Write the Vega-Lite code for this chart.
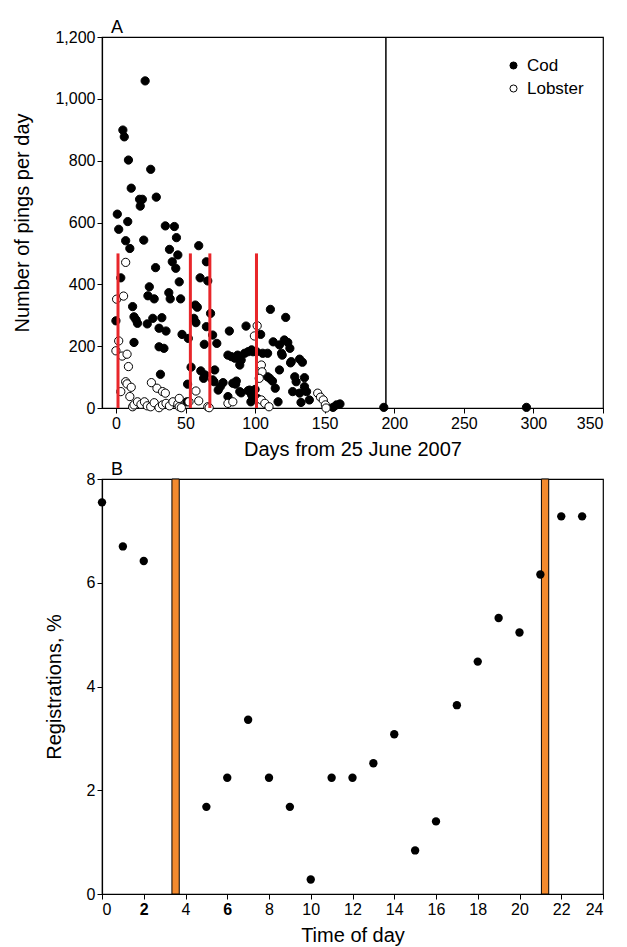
{
  "$schema": "https://vega.github.io/schema/vega-lite/v6.json",
  "padding": {"left": 12, "top": 18, "right": 20, "bottom": 5},
  "spacing": 0,
  "config": {
    "font": "Liberation Sans",
    "view": {"stroke": "black", "strokeWidth": 1.2},
    "axis": {"domainColor": "black", "tickColor": "black", "labelColor": "black", "titleColor": "black", "labelFontSize": 16, "titleFontSize": 20, "titleFontWeight": "normal", "grid": false, "tickSize": 5, "domainWidth": 1.2, "tickWidth": 1, "labelPadding": 2, "titlePadding": 8},
    "axisY": {"titlePadding": 22},
    "title": {"fontSize": 18, "fontWeight": "normal", "anchor": "start", "frame": "group", "color": "black", "offset": -8}
  },
  "datasets": {
    "pings": [
      {"species": "Cod", "day": 21, "pings": 1058}, {"species": "Cod", "day": 5, "pings": 899}, {"species": "Cod", "day": 6, "pings": 877}, {"species": "Cod", "day": 9, "pings": 802}, {"species": "Cod", "day": 25, "pings": 772}, {"species": "Cod", "day": 11, "pings": 711}, {"species": "Cod", "day": 17, "pings": 675}, {"species": "Cod", "day": 19, "pings": 675}, {"species": "Cod", "day": 17.5, "pings": 653}, {"species": "Cod", "day": 29, "pings": 682},
      {"species": "Cod", "day": 1, "pings": 627}, {"species": "Cod", "day": 2, "pings": 578}, {"species": "Cod", "day": 8.5, "pings": 603}, {"species": "Cod", "day": 7, "pings": 541}, {"species": "Cod", "day": 10, "pings": 516}, {"species": "Cod", "day": 20, "pings": 543}, {"species": "Cod", "day": 35.5, "pings": 589}, {"species": "Cod", "day": 42, "pings": 587}, {"species": "Cod", "day": 43.5, "pings": 551}, {"species": "Cod", "day": 38.5, "pings": 513},
      {"species": "Cod", "day": 40.5, "pings": 473}, {"species": "Cod", "day": 44.5, "pings": 495}, {"species": "Cod", "day": 59.5, "pings": 525}, {"species": "Cod", "day": 65, "pings": 473}, {"species": "Cod", "day": 28.5, "pings": 454}, {"species": "Cod", "day": 43, "pings": 452}, {"species": "Cod", "day": 45.5, "pings": 408}, {"species": "Cod", "day": 3.5, "pings": 421}, {"species": "Cod", "day": 24, "pings": 392}, {"species": "Cod", "day": 60.5, "pings": 421},
      {"species": "Cod", "day": 66, "pings": 411}, {"species": "Cod", "day": 23, "pings": 363}, {"species": "Cod", "day": 27.5, "pings": 353}, {"species": "Cod", "day": 38, "pings": 373}, {"species": "Cod", "day": 39, "pings": 353}, {"species": "Cod", "day": 46.5, "pings": 353}, {"species": "Cod", "day": 12, "pings": 328}, {"species": "Cod", "day": 57, "pings": 333}, {"species": "Cod", "day": 58.5, "pings": 326}, {"species": "Cod", "day": 13, "pings": 295},
      {"species": "Cod", "day": 14.5, "pings": 285}, {"species": "Cod", "day": 15.5, "pings": 274}, {"species": "Cod", "day": 22.5, "pings": 272}, {"species": "Cod", "day": 26.5, "pings": 290}, {"species": "Cod", "day": 33, "pings": 292}, {"species": "Cod", "day": 31, "pings": 258}, {"species": "Cod", "day": 36, "pings": 249}, {"species": "Cod", "day": 0, "pings": 282}, {"species": "Cod", "day": 47.5, "pings": 238}, {"species": "Cod", "day": 56, "pings": 290},
      {"species": "Cod", "day": 57.5, "pings": 276}, {"species": "Cod", "day": 68, "pings": 306}, {"species": "Cod", "day": 65, "pings": 263}, {"species": "Cod", "day": 69.5, "pings": 236}, {"species": "Cod", "day": 72.5, "pings": 209}, {"species": "Cod", "day": 13, "pings": 212}, {"species": "Cod", "day": 31, "pings": 198}, {"species": "Cod", "day": 34.5, "pings": 193}, {"species": "Cod", "day": 63.5, "pings": 206}, {"species": "Cod", "day": 52, "pings": 225},
      {"species": "Cod", "day": 81.5, "pings": 249}, {"species": "Cod", "day": 93.5, "pings": 265}, {"species": "Cod", "day": 32, "pings": 109}, {"species": "Cod", "day": 54, "pings": 132}, {"species": "Cod", "day": 61, "pings": 120}, {"species": "Cod", "day": 63, "pings": 96}, {"species": "Cod", "day": 71, "pings": 123}, {"species": "Cod", "day": 51.5, "pings": 77}, {"species": "Cod", "day": 70.5, "pings": 85}, {"species": "Cod", "day": 77, "pings": 82},
      {"species": "Cod", "day": 73.5, "pings": 58}, {"species": "Cod", "day": 86, "pings": 77}, {"species": "Cod", "day": 80.5, "pings": 37}, {"species": "Cod", "day": 90, "pings": 49}, {"species": "Cod", "day": 95, "pings": 56}, {"species": "Cod", "day": 97, "pings": 20}, {"species": "Cod", "day": 51, "pings": 20},
      {"species": "Cod", "day": 80.5, "pings": 171}, {"species": "Cod", "day": 83, "pings": 166}, {"species": "Cod", "day": 85.5, "pings": 161}, {"species": "Cod", "day": 87.5, "pings": 171}, {"species": "Cod", "day": 90, "pings": 155}, {"species": "Cod", "day": 89, "pings": 139}, {"species": "Cod", "day": 92.5, "pings": 177}, {"species": "Cod", "day": 95, "pings": 182}, {"species": "Cod", "day": 97.5, "pings": 188}, {"species": "Cod", "day": 101, "pings": 182},
      {"species": "Cod", "day": 105.5, "pings": 177}, {"species": "Cod", "day": 109, "pings": 177}, {"species": "Cod", "day": 111, "pings": 319}, {"species": "Cod", "day": 122, "pings": 293}, {"species": "Cod", "day": 113, "pings": 214}, {"species": "Cod", "day": 117.5, "pings": 204}, {"species": "Cod", "day": 121, "pings": 220}, {"species": "Cod", "day": 123.5, "pings": 212}, {"species": "Cod", "day": 125, "pings": 193}, {"species": "Cod", "day": 119, "pings": 177},
      {"species": "Cod", "day": 126, "pings": 150}, {"species": "Cod", "day": 117.5, "pings": 123}, {"species": "Cod", "day": 110.5, "pings": 96}, {"species": "Cod", "day": 112.5, "pings": 87}, {"species": "Cod", "day": 114.5, "pings": 64}, {"species": "Cod", "day": 116.5, "pings": 20}, {"species": "Cod", "day": 84, "pings": 80}, {"species": "Cod", "day": 86.5, "pings": 87}, {"species": "Cod", "day": 89, "pings": 53}, {"species": "Cod", "day": 96, "pings": 58},
      {"species": "Cod", "day": 97.5, "pings": 42}, {"species": "Cod", "day": 75, "pings": 69}, {"species": "Cod", "day": 69.5, "pings": 91}, {"species": "Cod", "day": 64, "pings": 107}, {"species": "Cod", "day": 104, "pings": 238}, {"species": "Cod", "day": 98.5, "pings": 182}, {"species": "Cod", "day": 119.5, "pings": 171}, {"species": "Cod", "day": 109, "pings": 101}, {"species": "Cod", "day": 100, "pings": 60}, {"species": "Cod", "day": 102, "pings": 30},
      {"species": "Cod", "day": 132, "pings": 158}, {"species": "Cod", "day": 134, "pings": 148}, {"species": "Cod", "day": 128.5, "pings": 101}, {"species": "Cod", "day": 135.5, "pings": 98}, {"species": "Cod", "day": 129.5, "pings": 85}, {"species": "Cod", "day": 127, "pings": 53}, {"species": "Cod", "day": 132, "pings": 48}, {"species": "Cod", "day": 137, "pings": 53}, {"species": "Cod", "day": 133, "pings": 18}, {"species": "Cod", "day": 139, "pings": 26},
      {"species": "Cod", "day": 156, "pings": 2}, {"species": "Cod", "day": 158.5, "pings": 10}, {"species": "Cod", "day": 161, "pings": 13}, {"species": "Cod", "day": 125.5, "pings": 146}, {"species": "Cod", "day": 135.5, "pings": 69}, {"species": "Cod", "day": 192.5, "pings": 2}, {"species": "Cod", "day": 295, "pings": 2},
      {"species": "Lobster", "day": 7, "pings": 471}, {"species": "Lobster", "day": 0.5, "pings": 352}, {"species": "Lobster", "day": 5.5, "pings": 362}, {"species": "Lobster", "day": 2, "pings": 217}, {"species": "Lobster", "day": 0, "pings": 185}, {"species": "Lobster", "day": 4.5, "pings": 168}, {"species": "Lobster", "day": 8, "pings": 174}, {"species": "Lobster", "day": 9, "pings": 134}, {"species": "Lobster", "day": 3.5, "pings": 53}, {"species": "Lobster", "day": 7, "pings": 85},
      {"species": "Lobster", "day": 8, "pings": 78}, {"species": "Lobster", "day": 11, "pings": 67}, {"species": "Lobster", "day": 10, "pings": 37}, {"species": "Lobster", "day": 12, "pings": 4}, {"species": "Lobster", "day": 13, "pings": 10}, {"species": "Lobster", "day": 15.5, "pings": 20}, {"species": "Lobster", "day": 18, "pings": 12}, {"species": "Lobster", "day": 20.5, "pings": 20}, {"species": "Lobster", "day": 22.5, "pings": 7}, {"species": "Lobster", "day": 25, "pings": 4},
      {"species": "Lobster", "day": 27.5, "pings": 17}, {"species": "Lobster", "day": 31, "pings": 1}, {"species": "Lobster", "day": 33.5, "pings": 10}, {"species": "Lobster", "day": 36, "pings": 15}, {"species": "Lobster", "day": 38.5, "pings": 7}, {"species": "Lobster", "day": 41, "pings": 20}, {"species": "Lobster", "day": 44.5, "pings": 13}, {"species": "Lobster", "day": 45.5, "pings": 4}, {"species": "Lobster", "day": 47, "pings": 1}, {"species": "Lobster", "day": 25.5, "pings": 82},
      {"species": "Lobster", "day": 29.5, "pings": 64}, {"species": "Lobster", "day": 33.5, "pings": 53}, {"species": "Lobster", "day": 35.5, "pings": 48}, {"species": "Lobster", "day": 45.5, "pings": 31}, {"species": "Lobster", "day": 52.5, "pings": 20}, {"species": "Lobster", "day": 57.5, "pings": 55}, {"species": "Lobster", "day": 59.5, "pings": 23}, {"species": "Lobster", "day": 66, "pings": 4}, {"species": "Lobster", "day": 67, "pings": 1}, {"species": "Lobster", "day": 80.5, "pings": 15},
      {"species": "Lobster", "day": 84, "pings": 20}, {"species": "Lobster", "day": 101.5, "pings": 266}, {"species": "Lobster", "day": 99.5, "pings": 233}, {"species": "Lobster", "day": 104.5, "pings": 139}, {"species": "Lobster", "day": 105, "pings": 117}, {"species": "Lobster", "day": 103, "pings": 96}, {"species": "Lobster", "day": 104.5, "pings": 26}, {"species": "Lobster", "day": 107, "pings": 15}, {"species": "Lobster", "day": 110, "pings": 4},
      {"species": "Lobster", "day": 145, "pings": 48}, {"species": "Lobster", "day": 147, "pings": 35}, {"species": "Lobster", "day": 149, "pings": 26}, {"species": "Lobster", "day": 150.5, "pings": 10}, {"species": "Lobster", "day": 151, "pings": 0}
    ],
    "releases": [{"day": 1.5}, {"day": 53.5}, {"day": 67.5}, {"day": 101}],
    "endline": [{"day": 194}],
    "hours": [
      {"hour": 0, "pct": 7.55}, {"hour": 1, "pct": 6.7}, {"hour": 2, "pct": 6.42}, {"hour": 5, "pct": 1.68}, {"hour": 6, "pct": 2.24}, {"hour": 7, "pct": 3.36}, {"hour": 8, "pct": 2.24}, {"hour": 9, "pct": 1.68}, {"hour": 10, "pct": 0.28}, {"hour": 11, "pct": 2.24},
      {"hour": 12, "pct": 2.24}, {"hour": 13, "pct": 2.52}, {"hour": 14, "pct": 3.08}, {"hour": 15, "pct": 0.84}, {"hour": 16, "pct": 1.4}, {"hour": 17, "pct": 3.64}, {"hour": 18, "pct": 4.48}, {"hour": 19, "pct": 5.32}, {"hour": 20, "pct": 5.04}, {"hour": 21, "pct": 6.16},
      {"hour": 22, "pct": 7.28}, {"hour": 23, "pct": 7.28}
    ],
    "twilight": [{"start": 3.35, "end": 3.7}, {"start": 21.05, "end": 21.4}]
  },
  "vconcat": [
    {
      "title": {"text": "A", "dx": 9},
      "width": 501,
      "height": 371,
      "layer": [
        {
          "data": {"name": "pings"},
          "mark": {"type": "circle", "size": 68, "stroke": "black", "strokeWidth": 1, "opacity": 1},
          "encoding": {
            "x": {"field": "day", "type": "quantitative", "scale": {"domain": [-10, 350], "nice": false}, "axis": {"values": [0, 50, 100, 150, 200, 250, 300, 350], "title": "Days from 25 June 2007"}},
            "y": {"field": "pings", "type": "quantitative", "scale": {"domain": [0, 1200]}, "axis": {"values": [0, 200, 400, 600, 800, 1000, 1200], "format": ",d", "title": "Number of pings per day"}},
            "fill": {"field": "species", "type": "nominal", "scale": {"domain": ["Cod", "Lobster"], "range": ["black", "white"]}, "legend": {"title": null, "orient": "none", "legendX": 403, "legendY": 20, "symbolType": "circle", "symbolStrokeColor": "black", "symbolStrokeWidth": 1, "symbolSize": 50, "labelFontSize": 17, "labelOffset": 5, "rowPadding": 5, "labelColor": "black"}}
          }
        },
        {
          "data": {"name": "releases"},
          "mark": {"type": "rule", "color": "#E8262A", "strokeWidth": 3},
          "encoding": {"x": {"field": "day", "type": "quantitative"}, "y": {"datum": 0}, "y2": {"datum": 500}}
        },
        {
          "data": {"name": "endline"},
          "mark": {"type": "rule", "color": "black", "strokeWidth": 1.5},
          "encoding": {"x": {"field": "day", "type": "quantitative"}}
        }
      ]
    },
    {
      "title": {"text": "B", "dx": 9},
      "width": 501,
      "height": 415,
      "layer": [
        {
          "data": {"name": "twilight"},
          "mark": {"type": "rect", "fill": "#F38A2E", "stroke": "black", "strokeWidth": 1},
          "encoding": {"x": {"field": "start", "type": "quantitative", "scale": {"domain": [0, 24], "nice": false}}, "x2": {"field": "end"}}
        },
        {
          "data": {"name": "hours"},
          "mark": {"type": "circle", "size": 70, "color": "black", "opacity": 1},
          "encoding": {
            "x": {"field": "hour", "type": "quantitative", "scale": {"domain": [0, 24], "nice": false}, "axis": {"values": [0,1,2,3,4,5,6,7,8,9,10,11,12,13,14,15,16,17,18,19,20,21,22,23,24], "labelExpr": "datum.value % 2 == 0 ? datum.label : ''", "labelFontWeight": {"condition": {"test": "datum.value == 2 || datum.value == 6", "value": "bold"}, "value": "normal"}, "title": "Time of day"}},
            "y": {"field": "pct", "type": "quantitative", "scale": {"domain": [0, 8]}, "axis": {"values": [0, 2, 4, 6, 8], "title": "Registrations, %"}}
          }
        }
      ]
    }
  ]
}
